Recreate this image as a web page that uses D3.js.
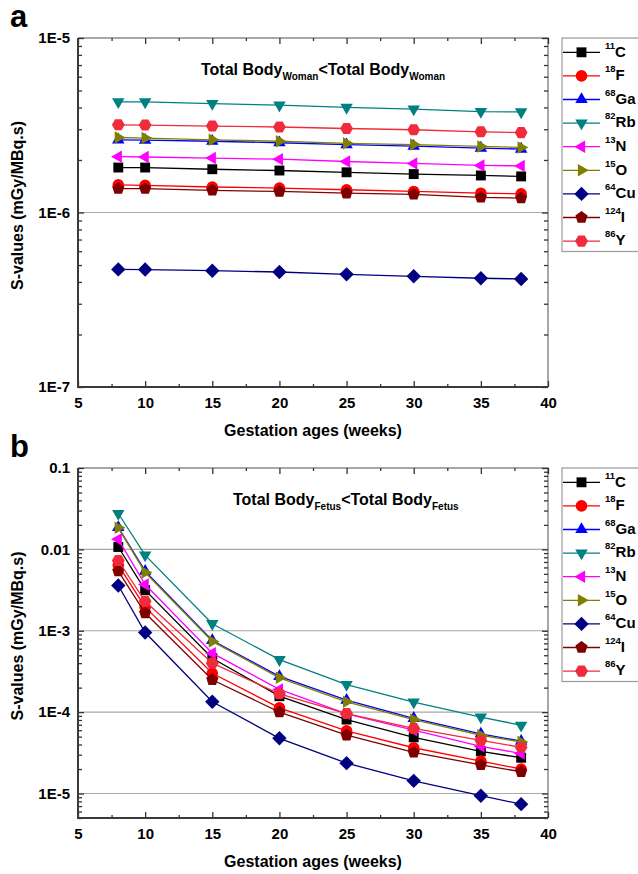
<!DOCTYPE html>
<html>
<head>
<meta charset="utf-8">
<script src="https://cdn.jsdelivr.net/npm/d3@7"></script>
<style>
  body { margin: 0; background: #fff; }
  text { font-family: Arial, 'Liberation Sans', Helvetica, sans-serif; font-weight: bold; fill: #000; }
</style>
</head>
<body>
<svg id="chart" width="638" height="874"></svg>
<script>
const weeks = [8, 10, 15, 20, 25, 30, 35, 38]
const isoMass = ['11', '18', '68', '82', '13', '15', '64', '124', '86']
const isoSymbol = ['C', 'F', 'Ga', 'Rb', 'N', 'O', 'Cu', 'I', 'Y']

// panel a : woman total body
const womanC11 = [1.81e-6, 1.81e-6, 1.77e-6, 1.74e-6, 1.70e-6, 1.66e-6, 1.63e-6, 1.61e-6]
const womanF18 = [1.44e-6, 1.43e-6, 1.40e-6, 1.38e-6, 1.35e-6, 1.32e-6, 1.29e-6, 1.28e-6]
const womanGa68 = [2.61e-6, 2.60e-6, 2.56e-6, 2.51e-6, 2.45e-6, 2.40e-6, 2.34e-6, 2.31e-6]
const womanRb82 = [4.31e-6, 4.30e-6, 4.21e-6, 4.12e-6, 4.00e-6, 3.91e-6, 3.79e-6, 3.77e-6]
const womanN13 = [2.09e-6, 2.08e-6, 2.05e-6, 2.02e-6, 1.96e-6, 1.91e-6, 1.86e-6, 1.85e-6]
const womanO15 = [2.69e-6, 2.67e-6, 2.61e-6, 2.56e-6, 2.49e-6, 2.45e-6, 2.39e-6, 2.36e-6]
const womanCu64 = [4.72e-7, 4.71e-7, 4.64e-7, 4.56e-7, 4.42e-7, 4.31e-7, 4.20e-7, 4.16e-7]
const womanI124 = [1.37e-6, 1.37e-6, 1.34e-6, 1.32e-6, 1.29e-6, 1.27e-6, 1.22e-6, 1.21e-6]
const womanY86 = [3.18e-6, 3.17e-6, 3.13e-6, 3.09e-6, 3.03e-6, 2.98e-6, 2.90e-6, 2.87e-6]

// panel b : fetus total body
const fetusC11 = [1.07e-2, 3.15e-3, 4.6e-4, 1.57e-4, 8.1e-5, 4.9e-5, 3.3e-5, 2.75e-5]
const fetusF18 = [6.4e-3, 1.95e-3, 3.0e-4, 1.13e-4, 5.9e-5, 3.65e-5, 2.5e-5, 2.0e-5]
const fetusGa68 = [1.86e-2, 5.4e-3, 7.6e-4, 2.75e-4, 1.40e-4, 8.4e-5, 5.4e-5, 4.4e-5]
const fetusRb82 = [2.76e-2, 8.5e-3, 1.22e-3, 4.41e-4, 2.18e-4, 1.33e-4, 8.7e-5, 6.9e-5]
const fetusN13 = [1.33e-2, 3.7e-3, 5.3e-4, 1.9e-4, 9.5e-5, 6.0e-5, 3.8e-5, 3.1e-5]
const fetusO15 = [1.84e-2, 5.2e-3, 7.4e-4, 2.64e-4, 1.34e-4, 8.1e-5, 5.2e-5, 4.3e-5]
const fetusCu64 = [3.6e-3, 9.5e-4, 1.34e-4, 4.77e-5, 2.36e-5, 1.43e-5, 9.4e-6, 7.4e-6]
const fetusI124 = [5.4e-3, 1.65e-3, 2.5e-4, 1.0e-4, 5.2e-5, 3.2e-5, 2.25e-5, 1.85e-5]
const fetusY86 = [7.3e-3, 2.3e-3, 4.0e-4, 1.68e-4, 9.6e-5, 6.3e-5, 4.5e-5, 3.7e-5]

const xTicks = [5, 10, 15, 20, 25, 30, 35, 40]
const yTicksA = [1e-7, 1e-6, 1e-5]
const yLabelsA = ['1E-7', '1E-6', '1E-5']
const yTicksB = [1e-5, 1e-4, 1e-3, 1e-2, 1e-1]
const yLabelsB = ['1E-5', '1E-4', '1E-3', '0.01', '0.1']

const colors = ['#000000', '#ff0000', '#0000ff', '#008080', '#ff00ff', '#808000', '#000080', '#800000', '#ef2b3c']

function poly(n, r, rot) {
  const pts = d3.range(n).map(i => {
    const a = rot + i * 2 * Math.PI / n
    return [r * Math.cos(a), r * Math.sin(a)]
  })
  return 'M' + pts.map(p => p[0].toFixed(2) + ',' + p[1].toFixed(2)).join('L') + 'Z'
}

const shapes = [
  poly(4, 7, Math.PI / 4),
  d3.symbol(d3.symbolCircle, Math.PI * 5.8 * 5.8)(),
  poly(3, 7.2, -Math.PI / 2),
  poly(3, 7.2, Math.PI / 2),
  poly(3, 7.2, Math.PI),
  poly(3, 7.2, 0),
  poly(4, 7.2, -Math.PI / 2),
  poly(5, 6.4, -Math.PI / 2),
  poly(6, 6.4, 0)
]

const svg = d3.select('#chart')

function drawPanel(cfg) {
  const left = 78, right = 548
  const x = d3.scaleLinear().domain([5, 40]).range([left, right])
  const y = d3.scaleLog().domain(cfg.yDomain).range([cfg.bottom, cfg.top])
  const g = svg.append('g')

  // gridlines at interior decades
  g.selectAll('.grid')
    .data(cfg.yTicks.filter(v => y(v) < cfg.bottom - 1 && y(v) > cfg.top + 1))
    .enter().append('line')
    .attr('x1', left).attr('x2', right)
    .attr('y1', d => y(d)).attr('y2', d => y(d))
    .attr('stroke', '#a8a8a8').attr('stroke-width', 1.2)

  const minorX = d3.range(5, 40.1, 2.5).filter(v => v % 5 !== 0)
  const minorY = y.ticks().filter(v => !cfg.yTicks.some(t => Math.abs(t - v) / t < 1e-6))

  // frame top / right
  g.append('path')
    .attr('d', `M${left},${cfg.top}H${right}V${cfg.bottom}`)
    .attr('fill', 'none').attr('stroke', '#8a8a8a').attr('stroke-width', 1.5)

  const styleAxis = (sel, col) => {
    sel.selectAll('.tick line').attr('stroke', col).attr('stroke-width', 1.3)
    sel.selectAll('.domain').remove()
  }

  // bottom axis
  const xb = g.append('g').attr('transform', `translate(0,${cfg.bottom})`)
    .call(d3.axisBottom(x).tickValues(xTicks).tickSize(-6).tickPadding(10).tickFormat(d => d))
  styleAxis(xb, '#333')
  xb.selectAll('text').style('font-size', '15px').style('font-family', null)
  g.append('g').attr('transform', `translate(0,${cfg.bottom})`)
    .call(d3.axisBottom(x).tickValues(minorX).tickSize(-3).tickFormat(''))
    .call(s => styleAxis(s, '#333'))

  // top axis
  g.append('g').attr('transform', `translate(0,${cfg.top})`)
    .call(d3.axisTop(x).tickValues(xTicks).tickSize(-6).tickFormat(''))
    .call(s => styleAxis(s, '#333'))
  g.append('g').attr('transform', `translate(0,${cfg.top})`)
    .call(d3.axisTop(x).tickValues(minorX).tickSize(-3).tickFormat(''))
    .call(s => styleAxis(s, '#333'))

  // left axis
  const yl = g.append('g').attr('transform', `translate(${left},0)`)
    .call(d3.axisLeft(y).tickValues(cfg.yTicks).tickSize(-6).tickPadding(8)
      .tickFormat((d, i) => cfg.yLabels[i]))
  styleAxis(yl, '#333')
  yl.selectAll('text').style('font-size', '15px').style('font-family', null)
  g.append('g').attr('transform', `translate(${left},0)`)
    .call(d3.axisLeft(y).tickValues(minorY).tickSize(-4).tickFormat(''))
    .call(s => styleAxis(s, '#333'))

  // right axis
  g.append('g').attr('transform', `translate(${right},0)`)
    .call(d3.axisRight(y).tickValues(cfg.yTicks).tickSize(-6).tickFormat(''))
    .call(s => styleAxis(s, '#333'))
  g.append('g').attr('transform', `translate(${right},0)`)
    .call(d3.axisRight(y).tickValues(minorY).tickSize(-4).tickFormat(''))
    .call(s => styleAxis(s, '#333'))

  // left / bottom axis lines
  g.append('path')
    .attr('d', `M${left},${cfg.top}V${cfg.bottom}H${right}`)
    .attr('fill', 'none').attr('stroke', '#3a3a3a').attr('stroke-width', 2)

  // series
  const line = d3.line().x(d => x(d.week)).y(d => y(d.value))
  cfg.series.forEach((vals, i) => {
    const pts = weeks.map((w, j) => ({week: w, value: vals[j]}))
    g.append('path').datum(pts)
      .attr('d', line)
      .attr('fill', 'none').attr('stroke', colors[i]).attr('stroke-width', 1.3)
    g.selectAll(null).data(pts).enter().append('path')
      .attr('d', shapes[i])
      .attr('transform', d => `translate(${x(d.week)},${y(d.value)})`)
      .attr('fill', colors[i])
  })

  // title
  const t = g.append('text').attr('x', cfg.titleX).attr('y', cfg.top + 37).style('font-size', '16px')
  t.append('tspan').text('Total Body')
  t.append('tspan').attr('dy', 5).style('font-size', '10px').text(cfg.sub)
  t.append('tspan').attr('dy', -5).text('<Total Body')
  t.append('tspan').attr('dy', 5).style('font-size', '10px').text(cfg.sub)

  // axis titles
  g.append('text')
    .attr('x', (left + right) / 2).attr('y', cfg.bottom + 48.5)
    .attr('text-anchor', 'middle').style('font-size', '16px')
    .text('Gestation ages (weeks)')
  g.append('text')
    .attr('transform', `translate(23,${(cfg.top + cfg.bottom) / 2 - 7}) rotate(-90)`)
    .attr('text-anchor', 'middle').style('font-size', '16px')
    .text('S-values (mGy/MBq.s)')

  // panel letter
  g.append('text').attr('x', 10).attr('y', cfg.top - 11.5)
    .style('font-size', '31px').text(cfg.letter)

  // legend
  const lg = g.append('g').attr('transform', `translate(562,${cfg.top})`)
  lg.append('rect').attr('width', 90).attr('height', 213.5)
    .attr('fill', '#fff').attr('stroke', '#9a9a9a').attr('stroke-width', 1.2)
  isoMass.forEach((m, i) => {
    const ry = 14.3 + i * 23.6
    lg.append('line').attr('x1', 1).attr('x2', 38).attr('y1', ry).attr('y2', ry)
      .attr('stroke', colors[i]).attr('stroke-width', 1.3)
    lg.append('path').attr('d', shapes[i]).attr('transform', `translate(19.5,${ry})`)
      .attr('fill', colors[i])
    const lt = lg.append('text').attr('x', 43).attr('y', ry + 4.3)
    lt.append('tspan').attr('dy', -8).style('font-size', '9.5px').text(m)
    lt.append('tspan').attr('dy', 8).style('font-size', '15px').text(isoSymbol[i])
  })
}

drawPanel({
  top: 38, bottom: 387, yDomain: [1e-7, 1e-5],
  yTicks: yTicksA, yLabels: yLabelsA, letter: 'a', sub: 'Woman', titleX: 201,
  series: [womanC11, womanF18, womanGa68, womanRb82, womanN13, womanO15, womanCu64, womanI124, womanY86]
})

drawPanel({
  top: 468, bottom: 818, yDomain: [5e-6, 1e-1],
  yTicks: yTicksB, yLabels: yLabelsB, letter: 'b', sub: 'Fetus', titleX: 233,
  series: [fetusC11, fetusF18, fetusGa68, fetusRb82, fetusN13, fetusO15, fetusCu64, fetusI124, fetusY86]
})
</script>
</body>
</html>
